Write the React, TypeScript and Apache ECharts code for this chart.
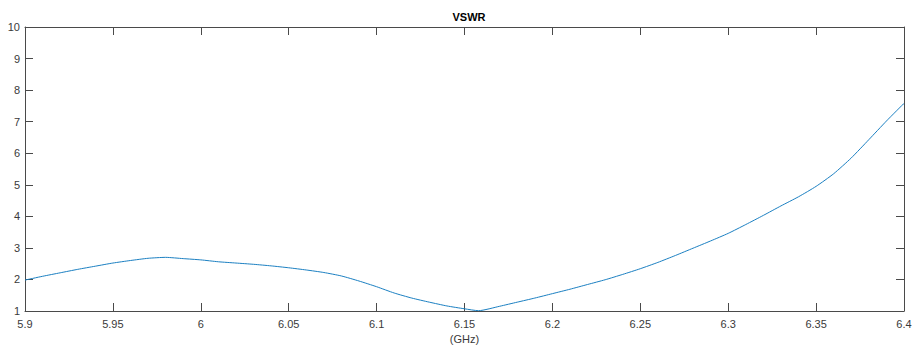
import React, { useEffect, useRef } from "react";
import * as echarts from "echarts";

const freqs = [
  5.9, 5.91, 5.92, 5.93, 5.94, 5.95, 5.96, 5.97, 5.98, 5.99,
  6.0, 6.01, 6.02, 6.03, 6.04, 6.05, 6.06, 6.07, 6.08, 6.09,
  6.1, 6.11, 6.12, 6.13, 6.14, 6.15, 6.158, 6.17, 6.18, 6.19,
  6.2, 6.21, 6.22, 6.23, 6.24, 6.25, 6.26, 6.27, 6.28, 6.29,
  6.3, 6.31, 6.32, 6.33, 6.34, 6.35, 6.36, 6.37, 6.38, 6.39, 6.4,
];
const vswr = [
  1.98, 2.1, 2.21, 2.32, 2.42, 2.52, 2.6, 2.67, 2.7, 2.66,
  2.62, 2.56, 2.52, 2.48, 2.43, 2.37, 2.3, 2.22, 2.11, 1.95,
  1.77, 1.57, 1.41, 1.28, 1.16, 1.07, 1.01, 1.15, 1.28, 1.41,
  1.55, 1.69, 1.84, 1.99, 2.16, 2.34, 2.54, 2.76, 2.99, 3.22,
  3.46, 3.74, 4.03, 4.33, 4.62, 4.95, 5.35, 5.85, 6.43, 7.02, 7.58,
];

export default function App() {
  const ref = useRef<HTMLDivElement>(null);
  useEffect(() => {
    if (!ref.current) return;
    const chart = echarts.init(ref.current, undefined, { renderer: "svg" });
    const axisColor = "#4a4a4a";
    const font = "Liberation Sans, Arial, sans-serif";
    const baseX = {
      type: "value" as const,
      min: 5.9,
      max: 6.4,
      interval: 0.05,
      axisLine: { show: true, onZero: false, lineStyle: { color: axisColor, width: 1 } },
      axisTick: { show: true, inside: true, length: 8, lineStyle: { color: axisColor } },
      splitLine: { show: false },
    };
    const baseY = {
      type: "value" as const,
      min: 1,
      max: 10,
      interval: 1,
      axisLine: { show: true, onZero: false, lineStyle: { color: axisColor, width: 1 } },
      axisTick: { show: true, inside: true, length: 8, lineStyle: { color: axisColor } },
      splitLine: { show: false },
    };
    chart.setOption({
      animation: false,
      title: {
        text: "VSWR",
        left: 464,
        textAlign: "center",
        top: 6,
        textStyle: { fontSize: 11, fontWeight: "bold", color: "#000", fontFamily: font },
      },
      grid: {
        left: 25,
        right: 8,
        top: 27,
        bottom: 39,
        containLabel: false,
        outerBoundsMode: "none",
      },
      xAxis: [
        {
          ...baseX,
          position: "bottom",
          name: "(GHz)",
          nameLocation: "middle",
          nameGap: 22,
          nameTextStyle: { fontSize: 11, color: "#3a3a3a", fontFamily: font },
          axisLabel: { show: true, margin: 7, fontSize: 11, color: "#3a3a3a", fontFamily: font },
        },
        { ...baseX, position: "top", axisLabel: { show: false } },
      ],
      yAxis: [
        {
          ...baseY,
          position: "left",
          axisLabel: { show: true, margin: 5, fontSize: 11, color: "#3a3a3a", fontFamily: font },
        },
        { ...baseY, position: "right", axisLabel: { show: false } },
      ],
      series: [
        {
          type: "line",
          data: freqs.map((f, i) => [f, vswr[i]]),
          showSymbol: false,
          smooth: 0.2,
          lineStyle: { color: "#1a7fc1", width: 1 },
          xAxisIndex: 0,
          yAxisIndex: 0,
        },
      ],
    });
    return () => chart.dispose();
  }, []);
  return (
    <div
      ref={ref}
      style={{ position: "fixed", left: 0, top: 0, width: 912, height: 350, background: "#fff" }}
    />
  );
}
